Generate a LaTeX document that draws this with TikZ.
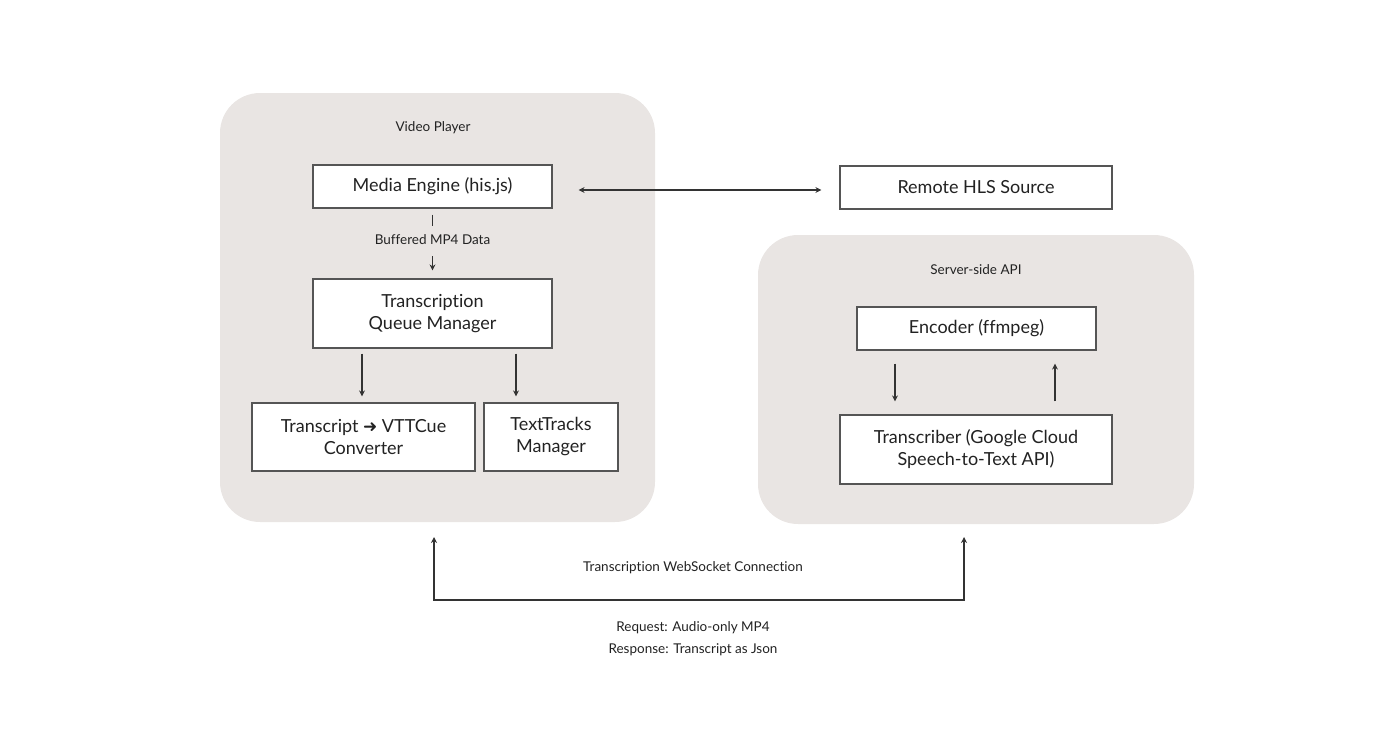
\documentclass[tikz,border=0pt]{standalone}
\usepackage{fontspec}
\setmainfont{Lato}[Ligatures={CommonOff}]
\newfontfamily\symfont{DejaVu Sans}
\usetikzlibrary{arrows.meta}
\definecolor{panelfill}{HTML}{E9E5E3}
\definecolor{boxline}{HTML}{555555}
\definecolor{arrowcol}{HTML}{333333}
\definecolor{txt}{HTML}{222222}
\tikzset{
  panel/.style={fill=panelfill, draw=none, rounded corners=40pt},
  box/.style={draw=boxline, line width=1.2pt, fill=white, align=center, text=txt,
    font=\fontsize{18}{22}\selectfont, inner sep=0pt},
  small/.style={text=txt, font=\fontsize{13.5}{16}\selectfont, inner sep=0pt, align=center},
  conn/.style={draw=arrowcol, line width=1.3pt},
  tip/.style={-{Stealth[length=6pt,width=6pt]}},
}
\begin{document}
\begin{tikzpicture}[x=1pt,y=-1pt]
\useasboundingbox (0,0) rectangle (1400,740);
% panels
\path[panel] (220,93) rectangle (655,522);
\path[panel] (758,235) rectangle (1194,524);
\node[small] (vplabel) at (433,128) {Video Player};
\node[small] (salabel) at (976,270) {Server-side API};
% boxes
\node[box, minimum width=239pt, minimum height=43pt] (media) at (432.5,186.5) {Media Engine (his.js)};
\node[box, minimum width=272pt, minimum height=43pt] (hls) at (976,187.5) {Remote HLS Source};
\node[box, minimum width=239pt, minimum height=69pt] (queue) at (432.5,313.5) {Transcription\\Queue Manager};
\node[box, minimum width=223pt, minimum height=68pt] (conv) at (363.5,437) {Transcript {\symfont\fontsize{17}{16}\selectfont ➜} VTTCue\\Converter};
\node[box, minimum width=134pt, minimum height=68pt] (tt) at (551,437) {TextTracks\\Manager};
\node[box, minimum width=239pt, minimum height=43pt] (enc) at (976.5,328.5) {Encoder (ffmpeg)};
\node[box, minimum width=272pt, minimum height=69pt] (trans) at (976,449.5) {Transcriber (Google Cloud\\Speech-to-Text API)};
% labels
\node[small] (buf) at (432.5,240) {Buffered MP4 Data};
\node[small] (ws) at (693,568) {Transcription WebSocket Connection};
\node[small] (req) at (693,628) {Request: Audio-only MP4};
\node[small] (resp) at (693,650) {Response: Transcript as Json};
% connectors
\draw[conn, {Stealth[length=6pt,width=6pt]}-{Stealth[length=6pt,width=6pt]}] ([xshift=26pt,yshift=-3.5pt]media.east) -- ([xshift=-18pt,yshift=-2.5pt]hls.west);
\draw[conn] ([yshift=-6pt]media.south) -- (buf.north |- 0,226);
\draw[conn, tip] (buf.south |- 0,256) -- ([yshift=8pt]queue.north);
\draw[conn, tip] ([xshift=-70.5pt,yshift=-5pt]queue.south) -- ([xshift=-1.5pt,yshift=6pt]conv.north);
\draw[conn, tip] ([xshift=83.5pt,yshift=-5pt]queue.south) -- ([xshift=-35pt,yshift=6pt]tt.north);
\draw[conn, tip] ([xshift=-81.5pt,yshift=-13pt]enc.south) -- ([xshift=-81pt,yshift=13pt]trans.north);
\draw[conn, tip] ([xshift=79pt,yshift=13pt]trans.north) -- ([xshift=78.5pt,yshift=-13pt]enc.south);
\coordinate (wsL) at (434,537);
\coordinate (wsR) at (964,537);
\coordinate (wsBL) at (434,600);
\coordinate (wsBR) at (964,600);
\draw[conn, {Stealth[length=6pt,width=6pt]}-{Stealth[length=6pt,width=6pt]}] (wsL) -- (wsBL) -- (wsBR) -- (wsR);
\end{tikzpicture}
\end{document}
